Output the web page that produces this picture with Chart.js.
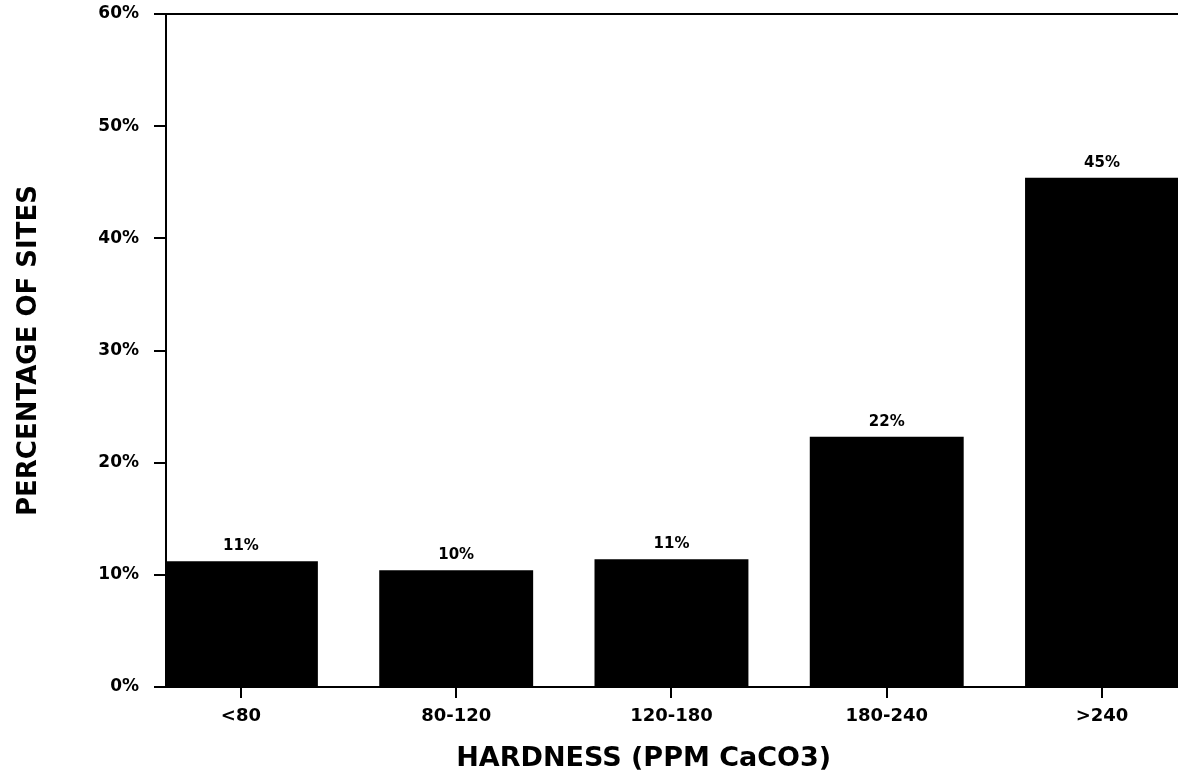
<!DOCTYPE html>
<html>
<head>
<meta charset="utf-8">
<title>Hardness</title>
<script src="https://cdn.jsdelivr.net/npm/chart.js@4"></script>
<style>
  html, body { margin: 0; padding: 0; background: #fff; }
  #wrap { width: 1178px; height: 776px; position: relative; }
</style>
</head>
<body>
<div id="wrap"><canvas id="hardnessChart"></canvas></div>
<script>
/* ============================
   DATA
   ============================ */
const CATEGORIES = ["<80", "80-120", "120-180", "180-240", ">240"];
const SITE_PCT = [11.2, 10.4, 11.4, 22.3, 45.4];
const Y_TICKS = [0, 10, 20, 30, 40, 50, 60];
const X_TITLE = "HARDNESS (PPM CaCO3)";

const X_TICK_FONT = { family: "DejaVu Sans", weight: "bold", size: 18 };
const Y_TICK_FONT = { family: "DejaVu Sans", weight: "bold", size: 17 };

// value labels above bars, top frame line, x title
const decorations = {
  id: "decorations",
  afterDraw(chart) {
    const ctx = chart.ctx;
    const area = chart.chartArea;
    const meta = chart.getDatasetMeta(0);
    ctx.save();

    // top frame line
    ctx.strokeStyle = "#000";
    ctx.lineWidth = 2;
    ctx.beginPath();
    ctx.moveTo(area.left, area.top);
    ctx.lineTo(area.right, area.top);
    ctx.stroke();

    // bar value labels
    ctx.font = "bold 15px 'DejaVu Sans'";
    ctx.fillStyle = "#000";
    ctx.textAlign = "center";
    ctx.textBaseline = "alphabetic";
    meta.data.forEach((bar, i) => {
      ctx.fillText(Math.round(SITE_PCT[i]) + "%", bar.x, bar.y - 11);
    });

    // x axis title, starts under the second category
    ctx.font = "bold 27px 'DejaVu Sans'";
    ctx.textAlign = "left";
    ctx.fillText(X_TITLE, chart.scales.x.getPixelForValue(1), 766);
    ctx.restore();
  },
};

/* ============================
   CHART
   ============================ */
const ctx = document.getElementById("hardnessChart").getContext("2d");

new Chart(ctx, {
  type: "bar",
  data: {
    datasets: [
      {
        data: SITE_PCT.map((v, i) => ({ x: i, y: v })),
        backgroundColor: "#000",
        borderWidth: 0,
        barPercentage: 0.715,
        categoryPercentage: 1,
      },
    ],
  },
  options: {
    responsive: true,
    maintainAspectRatio: false,
    animation: false,
    layout: { padding: { top: 14, right: 0, left: 0, bottom: 0 } },
    plugins: { legend: { display: false }, tooltip: { enabled: false } },
    scales: {
      x: {
        type: "linear",
        position: "bottom",
        offset: false,
        min: -0.348,
        max: 4.353,
        afterFit: (s) => {
          s.height = 89;
          s.paddingLeft = 0;
          s.paddingRight = 0;
        },
        afterBuildTicks: (s) => {
          s.ticks = CATEGORIES.map((_, i) => ({ value: i }));
        },
        ticks: {
          color: "#000",
          font: X_TICK_FONT,
          padding: 8,
          maxRotation: 0,
          autoSkip: false,
          callback: (v) => CATEGORIES[v],
        },
        grid: {
          offset: false,
          drawOnChartArea: false,
          drawTicks: true,
          tickLength: 11,
          color: "#000",
          lineWidth: 2,
        },
        border: { display: true, color: "#000", width: 2 },
      },
      y: {
        min: 0,
        max: 60,
        afterFit: (s) => {
          s.width = 166;
          s.paddingTop = 0;
          s.paddingBottom = 0;
        },
        afterBuildTicks: (s) => {
          s.ticks = Y_TICKS.map((v) => ({ value: v }));
        },
        ticks: {
          color: "#000",
          font: Y_TICK_FONT,
          padding: 15,
          callback: (v) => v + "%",
        },
        grid: {
          drawOnChartArea: false,
          drawTicks: true,
          tickLength: 12,
          color: "#000",
          lineWidth: 2,
        },
        border: { display: true, color: "#000", width: 2 },
        title: {
          display: true,
          text: "PERCENTAGE OF SITES",
          color: "#000",
          font: { family: "DejaVu Sans", weight: "bold", size: 26 },
          padding: { top: 14, bottom: 0 },
        },
      },
    },
  },
  plugins: [decorations],
});
</script>
</body>
</html>
